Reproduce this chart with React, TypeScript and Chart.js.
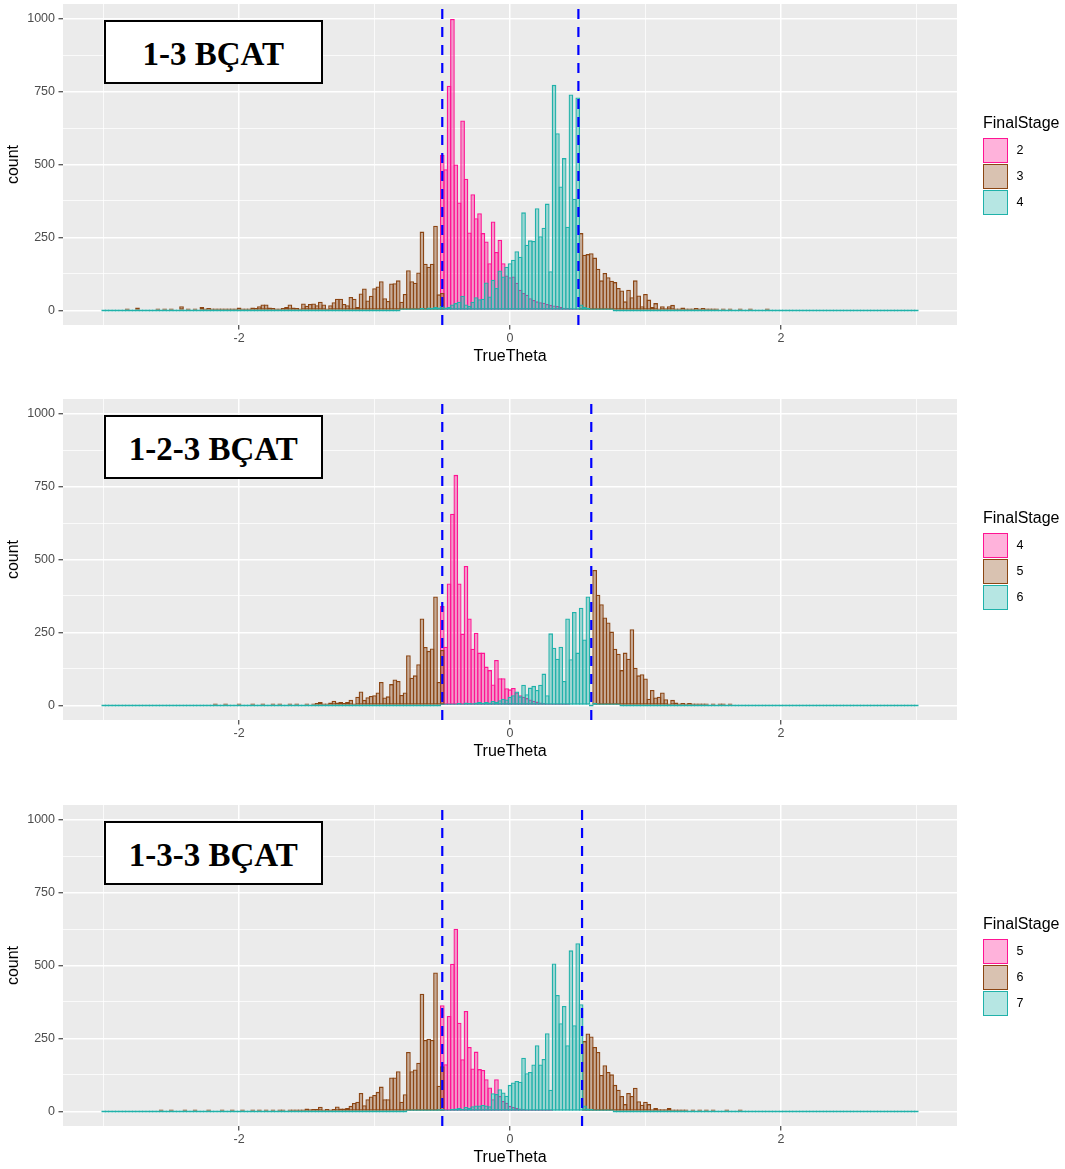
import React, { useEffect, useRef } from "react";
import { Chart, registerables } from "chart.js";

Chart.register(...registerables);

// ---------- bins (ggplot-style histogram, binwidth 0.025, centres on multiples of 0.025) ----------
const BIN_WIDTH = 0.025;
const N_BINS = 241;
const binCenters: number[] = Array.from({ length: N_BINS }, (_, i) => Math.round((-3 + BIN_WIDTH * i) * 1000) / 1000);

// ---------- axis ticks ----------
const xTickValues = [-3, -2, -1, 0, 1, 2, 3];
const xTickText = ["", "-2", "", "0", "", "2", ""];
const yTickValues = [0, 125, 250, 375, 500, 625, 750, 875, 1000];
const yTickText = ["0", "", "250", "", "500", "", "750", "", "1000"];

// ---------- colours ----------
const PINK = "#FF1493";
const BROWN = "#8B4513";
const TEAL = "#20B2AA";
const PINK_FILL = "rgba(255,20,147,0.38)";
const BROWN_FILL = "rgba(139,69,19,0.38)";
const TEAL_FILL = "rgba(32,178,170,0.38)";
const PINK_KEY = "rgba(255,20,147,0.33)";
const BROWN_KEY = "rgba(139,69,19,0.33)";
const TEAL_KEY = "rgba(32,178,170,0.33)";

// ---------- Panel 1 : 1-3 BÇAT (FinalStage 2 / 3 / 4) ----------
const p1Title = "1-3 BÇAT";
const p1Stages = ["2", "3", "4"];
const p1Cuts = [-0.5, 0.505];
const p1LowStart = 100;
const p1Low = [533, 484, 770, 999, 500, 370, 651, 451, 267, 398, 316, 333, 265, 236, 162, 305, 200, 242, 162, 120,
  114, 116, 95, 71, 60, 54, 42, 36, 31, 28, 26, 22, 19, 17, 15, 12, 9, 8, 7, 5, 3];
const p1MidLeftStart = 7;
const p1MidLeft = [6, 0, 0, 10, 0, 0, 0, 0, 0, 5, 0, 5, 0, 5, 0, 0, 14, 0, 5, 0,
  5, 0, 12, 2, 8, 4, 6, 5, 6, 3, 3, 3, 2, 10, 4, 1, 2, 10, 8, 14,
  20, 20, 10, 8, 2, 4, 8, 12, 20, 10, 8, 2, 24, 16, 22, 24, 18, 30, 20, 4,
  18, 28, 40, 40, 22, 18, 46, 40, 12, 58, 75, 34, 50, 76, 82, 100, 42, 32, 92, 93,
  103, 30, 56, 138, 100, 95, 130, 270, 160, 150, 160, 290, 55, 60];
const p1MidRightStart = 141;
const p1MidRight = [265, 191, 193, 196, 181, 143, 103, 128, 114, 102, 97, 77, 68, 31, 71, 45, 103, 51, 14, 56,
  37, 12, 25, 5, 14, 7, 14, 19, 6, 2, 10, 6, 4, 5, 8, 4, 8, 3, 4, 2,
  4, 0, 2, 0, 2, 0, 0, 1, 0, 0, 2, 0, 0, 0, 0, 2];
const p1HighStart = 88;
const p1High = [3, 5, 2, 4, 6, 5, 8, 6, 10, 8, 12, 10,
  15, 10, 12, 20, 25, 30, 50, 20, 15, 30, 45, 38, 40, 96, 48, 105, 77, 137, 116, 150,
  162, 174, 203, 184, 336, 225, 240, 238, 350, 254, 283, 366, 134, 773, 607, 425, 522, 287, 740, 383, 730,
  20, 12, 8, 6, 4, 3, 2, 2, 1, 1];

// ---------- Panel 2 : 1-2-3 BÇAT (FinalStage 4 / 5 / 6) ----------
const p2Title = "1-2-3 BÇAT";
const p2Stages = ["4", "5", "6"];
const p2Cuts = [-0.5, 0.6];
const p2LowStart = 100;
const p2Low = [341, 201, 418, 657, 790, 418, 246, 478, 298, 194, 249, 181, 181, 133, 121, 72, 156, 93, 93, 59,
  55, 60, 44, 35, 30, 25, 20, 16, 13, 10, 8, 6, 5, 4, 3, 2, 2, 1];
const p2MidLeftStart = 33;
const p2MidLeft = [2, 0, 0, 3, 0, 0, 0, 2, 0, 0, 0, 3, 0, 0, 3, 0, 0, 2, 0, 4,
  0, 0, 3, 0, 2, 0, 0, 3, 0, 5, 8, 12, 2, 5, 10, 16, 10, 12, 8, 12,
  19, 6, 30, 48, 19, 28, 32, 35, 44, 80, 27, 31, 73, 89, 84, 36, 44, 172, 95, 103,
  141, 298, 200, 187, 195, 373, 80, 190];
const p2MidRightStart = 145;
const p2MidRight = [464, 379, 347, 301, 284, 253, 194, 177, 121, 181, 160, 261, 129, 103, 107, 92, 23, 53, 27, 30,
  44, 21, 4, 19, 10, 4, 8, 4, 8, 3, 4, 2, 3, 1, 0, 2, 0, 1, 2, 0, 1];
const p2HighStart = 100;
const p2High = [3, 2, 4, 5, 6, 8, 5, 10, 8, 7, 10, 12, 8, 12, 10, 15, 12, 18, 23, 20,
  30, 35, 48, 31, 71, 38, 61, 67, 53, 71, 109, 35, 247, 198, 160, 201, 84, 298, 158, 320, 181, 335, 226, 373,
  0, 8, 6, 4, 3, 2, 2, 1, 1];

// ---------- Panel 3 : 1-3-3 BÇAT (FinalStage 5 / 6 / 7) ----------
const p3Title = "1-3-3 BÇAT";
const p3Stages = ["5", "6", "7"];
const p3Cuts = [-0.5, 0.532];
const p3LowStart = 100;
const p3Low = [364, 162, 327, 506, 626, 304, 179, 344, 221, 147, 205, 145, 142, 110, 82, 42, 110, 53, 36, 30,
  19, 15, 12, 10, 8, 6, 5, 4, 3, 3, 2, 2, 1];
const p3MidLeftStart = 17;
const p3MidLeft = [2, 0, 0, 3, 0, 0, 0, 2, 0, 0, 2, 0, 0, 0, 3, 0, 0, 0, 2, 0,
  0, 3, 0, 0, 2, 0, 0, 4, 0, 3, 0, 2, 0, 3, 0, 4, 2, 0, 2, 3,
  2, 3, 3, 10, 7, 8, 8, 16, 5, 8, 5, 8, 17, 10, 10, 12, 19, 29, 33, 63,
  21, 42, 51, 56, 67, 85, 42, 42, 116, 116, 138, 33, 59, 204, 138, 144, 167, 403, 245, 249,
  245, 476, 88, 155];
const p3MidRightStart = 142;
const p3MidRight = [241, 267, 257, 221, 204, 125, 158, 135, 127, 91, 74, 53, 25, 63, 53, 81, 35, 23, 33, 25,
  7, 12, 7, 7, 7, 12, 6, 3, 3, 3, 3, 0, 2, 0, 2, 0, 1, 0, 2, 0, 0, 0, 1, 0, 0, 0, 2];
const p3HighStart = 90;
const p3High = [2, 3, 2, 4, 3, 5, 4, 6, 5, 7,
  8, 3, 5, 8, 10, 12, 8, 15, 12, 18, 20, 20, 22, 20, 18,
  62, 60, 76, 65, 54, 91, 99, 104, 102, 184, 131, 135, 161, 227, 161, 180, 268, 74, 507, 399, 302, 361, 227, 552, 295, 576, 367,
  20, 10, 8, 5, 4, 3, 2, 2, 1];

// ---------- helpers ----------
function buildSeries(parts: Array<[number, number[]]>): number[] {
  const out: number[] = new Array(N_BINS).fill(0);
  for (const [start, vals] of parts) {
    vals.forEach((v, k) => {
      out[start + k] = v;
    });
  }
  return out;
}

type PanelCfg = {
  title: string;
  stages: string[];
  cuts: number[];
  low: number[];
  mid: number[];
  high: number[];
};

const panels: PanelCfg[] = [
  {
    title: p1Title, stages: p1Stages, cuts: p1Cuts,
    low: buildSeries([[p1LowStart, p1Low]]),
    mid: buildSeries([[p1MidLeftStart, p1MidLeft], [p1MidRightStart, p1MidRight]]),
    high: buildSeries([[p1HighStart, p1High]]),
  },
  {
    title: p2Title, stages: p2Stages, cuts: p2Cuts,
    low: buildSeries([[p2LowStart, p2Low]]),
    mid: buildSeries([[p2MidLeftStart, p2MidLeft], [p2MidRightStart, p2MidRight]]),
    high: buildSeries([[p2HighStart, p2High]]),
  },
  {
    title: p3Title, stages: p3Stages, cuts: p3Cuts,
    low: buildSeries([[p3LowStart, p3Low]]),
    mid: buildSeries([[p3MidLeftStart, p3MidLeft], [p3MidRightStart, p3MidRight]]),
    high: buildSeries([[p3HighStart, p3High]]),
  },
];

const PANEL_TOPS = [0, 395, 801];
const W = 1065;
const H = 368;
const FONT = "'Liberation Sans', Arial, sans-serif";
const BORDER_W = 1.3;
const BAR_PCT = 1 + BORDER_W / 3.386;

const panelBg = {
  id: "panelBg",
  beforeDraw(chart: any) {
    const { ctx, chartArea: a } = chart;
    ctx.save();
    ctx.fillStyle = "#EBEBEB";
    ctx.fillRect(a.left, a.top, a.right - a.left, a.bottom - a.top);
    ctx.restore();
  },
};

const cutLines = {
  id: "cutLines",
  afterDatasetsDraw(chart: any, _args: any, opts: any) {
    const { ctx, chartArea: a, scales } = chart;
    const xs = scales.x;
    ctx.save();
    ctx.strokeStyle = "#0000FF";
    ctx.lineWidth = 2.2;
    ctx.setLineDash([10, 8]);
    ctx.lineCap = "butt";
    for (const v of opts.values || []) {
      const px = xs.getPixelForValue(v);
      ctx.beginPath();
      ctx.moveTo(px, a.bottom);
      ctx.lineTo(px, a.top);
      ctx.stroke();
    }
    ctx.restore();
  },
};

// zero bins of the lower layers are hidden under the top layer's baseline, so only the top layer draws them
function makeDataset(label: string, values: number[], border: string, fill: string, order: number, drawZero: boolean) {
  return {
    label,
    data: binCenters.map((x, i) => ({ x, y: values[i] === 0 && !drawZero ? null : values[i] })),
    backgroundColor: fill,
    borderColor: border,
    borderWidth: BORDER_W,
    borderSkipped: false,
    grouped: false,
    order,
    categoryPercentage: 1,
    barPercentage: BAR_PCT,
    minBarLength: 2,
    inflateAmount: 0,
  };
}

function Panel({ cfg, top }: { cfg: PanelCfg; top: number }) {
  const ref = useRef<HTMLCanvasElement | null>(null);

  useEffect(() => {
    if (!ref.current) return;
    const chart = new Chart(ref.current, {
      type: "bar",
      data: {
        datasets: [
          makeDataset(cfg.stages[0], cfg.low, PINK, PINK_FILL, 3, false),
          makeDataset(cfg.stages[1], cfg.mid, BROWN, BROWN_FILL, 2, false),
          makeDataset(cfg.stages[2], cfg.high, TEAL, TEAL_FILL, 1, true),
        ] as any,
      },
      options: {
        responsive: false,
        animation: false,
        events: [],
        layout: { padding: { left: 0, right: 108, top: 4, bottom: 0 } },
        plugins: {
          legend: { display: false },
          tooltip: { enabled: false },
          cutLines: { values: cfg.cuts },
        } as any,
        scales: {
          x: {
            type: "linear",
            min: -3.3,
            max: 3.3,
            offset: false,
            bounds: "data",
            afterBuildTicks: (axis: any) => {
              axis.ticks = xTickValues.map((v) => ({ value: v }));
            },
            afterFit: (s: any) => {
              s.height = 43;
              s.paddingLeft = 0;
              s.paddingRight = 0;
              s.paddingTop = 0;
              s.paddingBottom = 0;
            },
            border: { display: false },
            grid: {
              offset: false,
              color: "#FFFFFF",
              lineWidth: (c: any) => (xTickText[xTickValues.indexOf(c.tick?.value)] ? 1.5 : 0.75),
              drawTicks: true,
              tickLength: 4.5,
              tickWidth: 1.1,
              tickColor: (c: any) => (xTickText[xTickValues.indexOf(c.tick?.value)] ? "#333333" : "rgba(0,0,0,0)"),
            },
            ticks: {
              autoSkip: false,
              maxRotation: 0,
              padding: 2,
              color: "#4D4D4D",
              font: { family: FONT, size: 12.5 },
              callback: (v: any) => {
                const k = xTickValues.indexOf(Number(v));
                return k >= 0 ? xTickText[k] : "";
              },
            },
            title: {
              display: true,
              text: "TrueTheta",
              color: "#000000",
              font: { family: FONT, size: 16 },
              padding: { top: 0, bottom: 1.6 },
            },
          },
          y: {
            type: "linear",
            min: -50,
            max: 1050,
            bounds: "data",
            afterBuildTicks: (axis: any) => {
              axis.ticks = yTickValues.map((v) => ({ value: v }));
            },
            afterFit: (s: any) => {
              s.width = 63;
              s.paddingTop = 0;
              s.paddingBottom = 0;
              s.paddingLeft = 0;
              s.paddingRight = 0;
            },
            border: { display: false },
            grid: {
              color: "#FFFFFF",
              lineWidth: (c: any) => (yTickText[yTickValues.indexOf(c.tick?.value)] ? 1.5 : 0.75),
              drawTicks: true,
              tickLength: 4.5,
              tickWidth: 1.1,
              tickColor: (c: any) => (yTickText[yTickValues.indexOf(c.tick?.value)] ? "#333333" : "rgba(0,0,0,0)"),
            },
            ticks: {
              autoSkip: false,
              padding: 3.5,
              color: "#4D4D4D",
              font: { family: FONT, size: 12.5 },
              callback: (v: any) => {
                const k = yTickValues.indexOf(Number(v));
                return k >= 0 ? yTickText[k] : "";
              },
            },
            title: {
              display: true,
              text: "count",
              color: "#000000",
              font: { family: FONT, size: 16 },
              padding: { top: 4.4, bottom: 0 },
            },
          },
        },
      } as any,
      plugins: [panelBg, cutLines],
    });
    return () => chart.destroy();
  }, [cfg]);

  const keyColors = [
    [PINK, PINK_KEY],
    [BROWN, BROWN_KEY],
    [TEAL, TEAL_KEY],
  ];

  return (
    <div style={{ position: "absolute", left: 0, top, width: W, height: H }}>
      <canvas ref={ref} width={W} height={H} style={{ display: "block", width: W, height: H }} />
      <div
        style={{
          position: "absolute",
          left: 104,
          top: 19.5,
          width: 218.5,
          height: 64.5,
          boxSizing: "border-box",
          border: "2px solid #000",
          background: "#fff",
          textAlign: "center",
          font: "bold 33px 'Liberation Serif', 'Times New Roman', serif",
          lineHeight: "60px",
          paddingTop: 2,
          color: "#000",
          whiteSpace: "nowrap",
        }}
      >
        {cfg.title}
      </div>
      <div
        style={{
          position: "absolute",
          left: 983,
          top: 113,
          font: `16px ${FONT}`,
          lineHeight: "19px",
          color: "#000",
          whiteSpace: "nowrap",
        }}
      >
        FinalStage
      </div>
      {cfg.stages.map((s, j) => (
        <React.Fragment key={s}>
          <div
            style={{
              position: "absolute",
              left: 983,
              top: 138 + 26 * j,
              width: 25,
              height: 24.5,
              boxSizing: "border-box",
              border: `1.5px solid ${keyColors[j][0]}`,
              background: keyColors[j][1],
            }}
          />
          <div
            style={{
              position: "absolute",
              left: 1016.5,
              top: 138 + 26 * j,
              height: 24.5,
              font: `12.5px ${FONT}`,
              lineHeight: "24.5px",
              color: "#000",
            }}
          >
            {s}
          </div>
        </React.Fragment>
      ))}
    </div>
  );
}

export default function App() {
  return (
    <div style={{ position: "absolute", left: 0, top: 0, width: W, height: 1169, background: "#fff" }}>
      {panels.map((p, k) => (
        <Panel key={p.title} cfg={p} top={PANEL_TOPS[k]} />
      ))}
    </div>
  );
}
